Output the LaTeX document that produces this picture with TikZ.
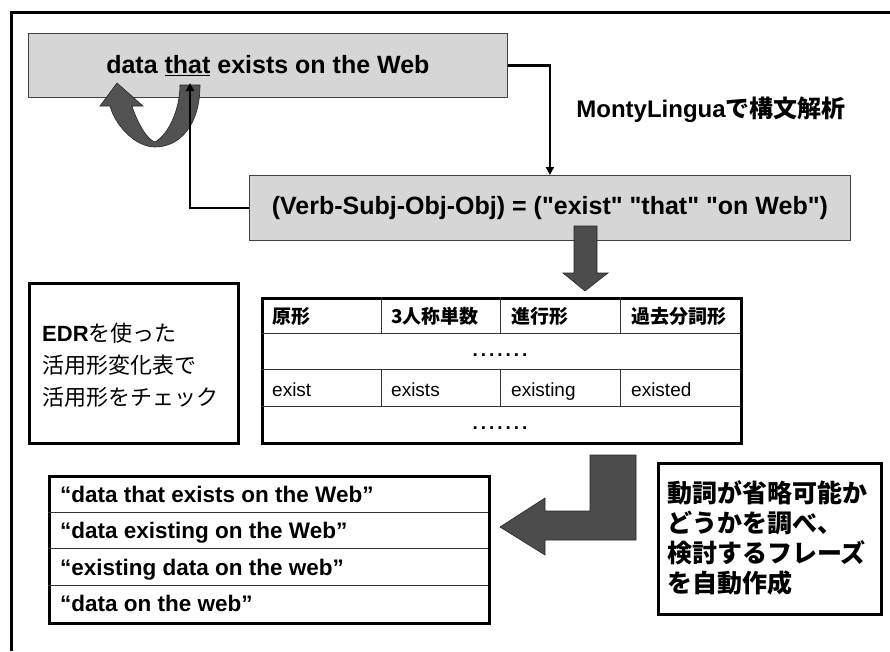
\documentclass[tikz,border=0pt]{standalone}
\usepackage{fontspec}
\setmainfont{Liberation Sans}[Ligatures=TeXOff]
\newfontfamily\jp{Noto Sans CJK JP}
\usetikzlibrary{arrows.meta,positioning}
\newcommand{\ja}[1]{{\jp #1}}
\newcommand{\dotrow}{\textbf{.\hspace{3pt}.\hspace{3pt}.\hspace{3pt}.\hspace{3pt}.\hspace{3pt}.\hspace{3pt}.}}

\begin{document}
\begin{tikzpicture}[x=1pt,y=-1pt,
  graybox/.style={draw=black!75,fill=black!16,line width=0.8pt,inner sep=0pt},
  thickbox/.style={draw,line width=2.6pt,inner sep=0pt},
  blockarrow/.style={fill=black!70,draw=black!85,line width=0.6pt},
  link/.style={-{Triangle[length=8pt,width=8pt]},line width=2.5pt},
  rowline/.style={draw=black!80,line width=0.7pt},
  celltext/.style={anchor=base west,inner sep=0pt,font=\fontsize{19}{22}\selectfont},
  phrase/.style={anchor=base west,inner sep=0pt,font=\bfseries\fontsize{22.5}{26}\selectfont}]

\useasboundingbox (0,0) rectangle (890,651);
\draw[line width=3pt] (890,12) -- (11,12) -- (11,651);

% parsed sentence and its structure
\node[graybox,anchor=north west,minimum width=479pt,minimum height=64pt,
  font=\bfseries\fontsize{25}{30}\selectfont] (S) at (28,33) {data \underline{that} exists on the Web};
\node[graybox,anchor=north west,minimum width=601pt,minimum height=65pt,
  font=\bfseries\fontsize{25}{29}\selectfont] (P) at (249,175) {(Verb-Subj-Obj-Obj) = ("exist" "that" "on Web")};
\node[font=\bfseries\fontsize{24}{28}\selectfont] (M) at (711,110) {MontyLingua\ja{で構文解析}};
\coordinate (that) at (190,83);

% turning arrow under "that"
\filldraw[blockarrow,fill=black!68] (180,85) -- (200,85) .. controls (200,125) and (180,147) .. (155,147)
  .. controls (135,147) and (115,125) .. (110,106) -- (100,106) -- (117,83) -- (143,106) -- (132,106)
  .. controls (138,125) and (148,140) .. (155,142) .. controls (168,135) and (180,110) .. (180,85) -- cycle;

\draw[link] (S.east) -| (P.north);
\draw[link] (P.west) -| (that);

% down arrow
\filldraw[blockarrow] (574,226) -- (597,226) -- (597,273) -- (608,273) -- (585,291) -- (563,273) -- (574,273) -- cycle;

% conjugation table
\node[thickbox,anchor=north west,minimum width=479pt,minimum height=145pt] (T) at (261,297) {};
\draw[rowline] (261,333) -- (740,333);
\draw[rowline] (261,369) -- (740,369);
\draw[rowline] (261,406) -- (740,406);
\draw[rowline] (381,297) -- (381,333) (500,297) -- (500,333) (620,297) -- (620,333);
\draw[rowline] (381,369) -- (381,406) (500,369) -- (500,406) (620,369) -- (620,406);
\node[celltext,font=\jp\bfseries\fontsize{19}{22}\selectfont] (h1) at (272,323) {原形};
\node[celltext,font=\jp\bfseries\fontsize{19}{22}\selectfont] (h2) at (391,323) {3人称単数};
\node[celltext,font=\jp\bfseries\fontsize{19}{22}\selectfont] (h3) at (511,323) {進行形};
\node[celltext,font=\jp\bfseries\fontsize{19}{22}\selectfont] (h4) at (631,323) {過去分詞形};
\node[celltext,anchor=base] (d1) at (500,356) {\dotrow};
\node[celltext] (e1) at (272,396) {exist};
\node[celltext] (e2) at (391,396) {exists};
\node[celltext] (e3) at (511,396) {existing};
\node[celltext] (e4) at (631,396) {existed};
\node[celltext,anchor=base] (d2) at (500,429) {\dotrow};

% EDR note
\node[thickbox,anchor=north west,minimum width=209pt,minimum height=160pt] (E) at (28,282) {};
\node[anchor=west,align=left,inner sep=0pt,font=\fontsize{22}{32}\selectfont] (Et) at (42,365)
  {\textbf{EDR}\ja{を使った}\\\ja{活用形変化表で}\\\ja{活用形をチェック}};

% generated phrases
\node[thickbox,anchor=north west,minimum width=440pt,minimum height=147pt] (L) at (48,475) {};
\draw[rowline] (48,512) -- (488,512);
\draw[rowline] (48,548) -- (488,548);
\draw[rowline] (48,585) -- (488,585);
\node[phrase] (p1) at (60,502) {“data that exists on the Web”};
\node[phrase] (p2) at (60,538) {“data existing on the Web”};
\node[phrase] (p3) at (60,575) {“existing data on the web”};
\node[phrase] (p4) at (60,611) {“data on the web”};

% bent arrow
\filldraw[blockarrow] (590,455) -- (636,455) -- (636,540) -- (545,540) -- (545,555) -- (500,527)
  -- (545,498) -- (545,511) -- (590,511) -- cycle;

% omission note
\node[thickbox,anchor=north west,minimum width=223pt,minimum height=151pt] (R) at (657,462) {};
\node[anchor=west,align=left,inner sep=0pt,font=\jp\bfseries\fontsize{25}{30}\selectfont] (Rt) at (667,538)
  {動詞が省略可能か\\どうかを調べ、\\検討するフレーズ\\を自動作成};
\end{tikzpicture}
\end{document}
